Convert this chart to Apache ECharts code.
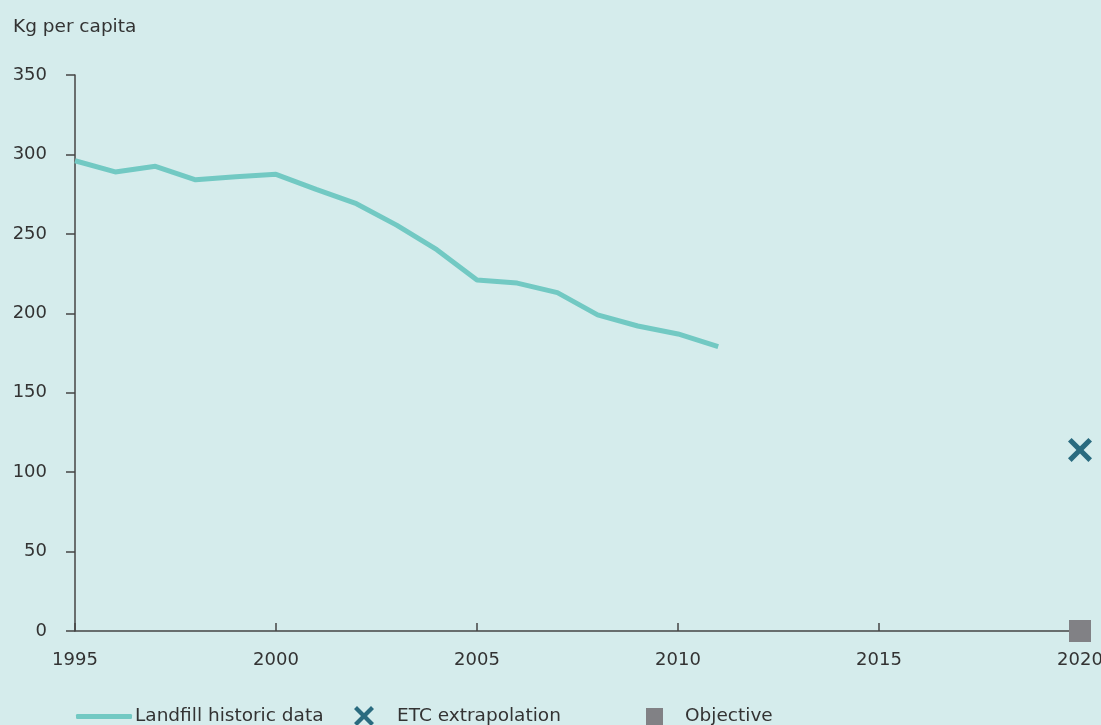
<!DOCTYPE html>
<html><head><meta charset="utf-8">
<script src="https://cdn.jsdelivr.net/npm/echarts@6/dist/echarts.min.js"></script>
<style>html,body{margin:0;padding:0;background:#d5ecec}#c{width:1101px;height:725px}</style>
</head><body><div id="c"></div>
<script>
const years = [1995,1996,1997,1998,1999,2000,2001,2002,2003,2004,2005,2006,2007,2008,2009,2010,2011];
const landfill = [296,289,292.5,284,286,287.5,278,269,255.5,240,221,219,213,199,192,187,179];
const etcYear = 2020;
const etcValue = 114;
const objectiveYear = 2020;
const objectiveValue = 0;
const seriesNames = ['Landfill historic data','ETC extrapolation','Objective'];

const xPath = 'path://M0,3 L3,0 L10,7 L17,0 L20,3 L13,10 L20,17 L17,20 L10,13 L3,20 L0,17 L7,10 Z';
const font = 'DejaVu Sans';
const txt = {fontFamily:font,fontSize:18.5,color:'#333',lineHeight:18};
const chart = echarts.init(document.getElementById('c'));
chart.setOption({
  backgroundColor:'#d5ecec',
  animation:false,
  title:{text:'Kg per capita',left:13,top:18,padding:0,textStyle:{fontFamily:font,fontSize:18.5,fontWeight:'normal',color:'#333'}},
  grid:{left:75,right:21,top:75,bottom:94,containLabel:false,outerBoundsMode:'none'},
  xAxis:{type:'value',min:1995,max:2020,interval:5,
    axisLine:{lineStyle:{color:'#444',width:1.5}},
    axisTick:{inside:true,length:8,lineStyle:{color:'#444',width:1.5}},
    axisLabel:{margin:20,fontFamily:font,fontSize:18,color:'#333',formatter:v=>String(v)},
    splitLine:{show:false}},
  yAxis:{type:'value',min:0,max:350,interval:50,
    axisLine:{show:true,lineStyle:{color:'#444',width:1.5}},
    axisTick:{show:true,length:9,lineStyle:{color:'#444',width:1.5}},
    axisLabel:{margin:28,fontFamily:font,fontSize:18,color:'#333'},
    splitLine:{show:false}},
  legend:[
    {data:[{name:seriesNames[0],icon:'roundRect'}],left:76,top:707,padding:0,itemWidth:56,itemHeight:5,textStyle:Object.assign({},txt,{padding:[0,0,0,-2]})},
    {data:[{name:seriesNames[1],icon:xPath}],left:354,top:706,padding:0,itemWidth:20,itemHeight:20,textStyle:Object.assign({},txt,{padding:[0,0,0,18]})},
    {data:[{name:seriesNames[2],icon:'rect'}],left:646,top:707,padding:0,itemWidth:17,itemHeight:17,textStyle:Object.assign({},txt,{padding:[0,0,0,17]})}
  ],
  series:[
    {name:seriesNames[0],type:'line',data:years.map((y,i)=>[y,landfill[i]]),showSymbol:false,symbol:'none',
     lineStyle:{color:'#72c9c3',width:5},itemStyle:{color:'#72c9c3'}},
    {name:seriesNames[1],type:'scatter',data:[[etcYear,etcValue]],symbol:xPath,symbolSize:24,clip:false,
     itemStyle:{color:'#2a6b7f',opacity:1}},
    {name:seriesNames[2],type:'scatter',data:[[objectiveYear,objectiveValue]],symbol:'rect',symbolSize:22,clip:false,
     itemStyle:{color:'#818185',opacity:1},z:5}
  ]
});
</script></body></html>
